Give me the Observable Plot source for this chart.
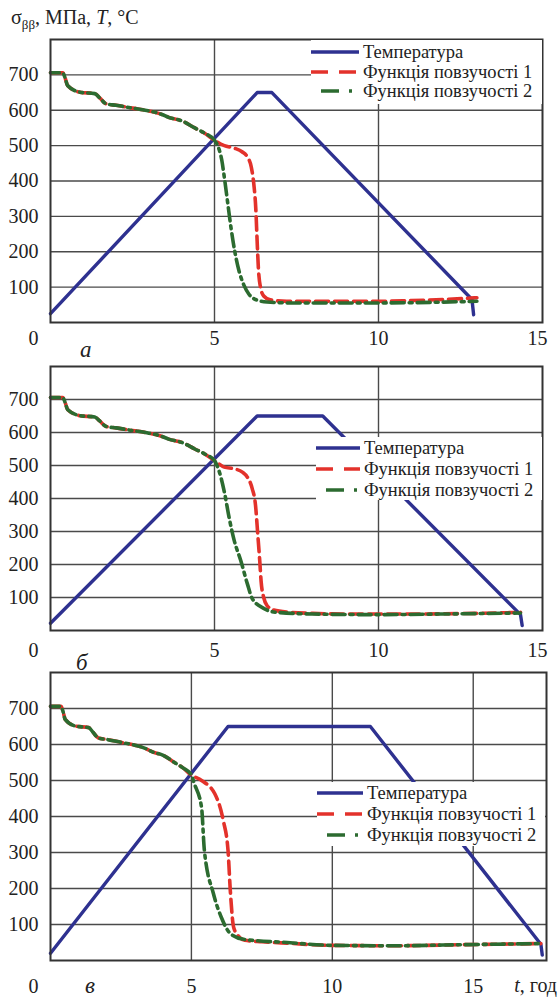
<!DOCTYPE html>
<html>
<head>
<meta charset="utf-8">
<script src="https://cdn.jsdelivr.net/npm/d3@7"></script>
<script src="https://cdn.jsdelivr.net/npm/@observablehq/plot@0.6"></script>
<style>
  html, body { margin: 0; padding: 0; background: #fff; }
  #root { position: relative; width: 558px; height: 999px; overflow: hidden; background: #fff; color: #222; }
  #root, #root *, #root svg text { font-family: "Liberation Serif", "DejaVu Serif", serif !important; }
  .abs { position: absolute; white-space: nowrap; }
  .legend { position: absolute; background: #fff; }
  .row { position: absolute; left: 0; height: 22px; display: flex; align-items: center; font-size: 18.5px; }
  .row svg { display: block; margin-right: 4px; }
</style>
</head>
<body>
<div id="root"></div>
<script>
// ---------- data ----------
const yTicks = [100, 200, 300, 400, 500, 600, 700];
const seriesNames = ["Температура", "Функція повзучості 1", "Функція повзучості 2"];

// common initial part of both creep functions (same in all panels)
const startT = [0, 0.37, 0.45, 0.52, 0.9, 1.35, 1.5, 1.7, 2.0, 2.5, 3.0, 3.4, 3.6, 4.0, 4.4, 4.7, 5.0];
const startV = [706, 706, 690, 670, 651, 647, 635, 618, 614, 606, 598, 588, 580, 570, 550, 535, 515];

// panel а
const tempA_t = [0, 6.3, 6.75, 12.85, 12.9];
const tempA_v = [25, 650, 650, 65, 22];
const red1A_t = [5.3, 5.6, 5.85, 6.0, 6.12, 6.2, 6.26, 6.3, 6.34, 6.4, 6.5, 6.7, 7.2, 8, 9, 10, 11, 12, 13];
const red1A_v = [500, 493, 482, 468, 440, 390, 320, 230, 150, 100, 75, 64, 60, 60, 60, 60, 62, 65, 70];
const grn2A_t = [5.12, 5.22, 5.3, 5.4, 5.5, 5.62, 5.75, 5.9, 6.05, 6.25, 6.6, 7.5, 9, 11, 13];
const grn2A_v = [495, 460, 410, 340, 270, 200, 145, 105, 80, 65, 58, 55, 55, 56, 60];

// panel б
const tempB_t = [0, 6.3, 8.3, 14.33, 14.38];
const tempB_v = [22, 650, 650, 48, 15];
const red1B_t = [5.3, 5.6, 5.85, 6.0, 6.15, 6.25, 6.32, 6.38, 6.42, 6.5, 6.6, 6.8, 7.3, 8, 9, 11, 13, 14.33];
const red1B_v = [495, 490, 480, 465, 430, 380, 290, 210, 150, 100, 76, 62, 55, 52, 50, 50, 52, 55];
const grn2B_t = [5.15, 5.3, 5.45, 5.6, 5.8, 6.0, 6.15, 6.5, 6.9, 8, 10, 12, 14.33];
const grn2B_v = [480, 420, 340, 273, 212, 142, 97, 67, 55, 50, 48, 50, 53];

// panel в
const tempC_t = [0, 6.3, 11.35, 17.4, 17.45];
const tempC_v = [20, 650, 650, 45, 15];
const red1C_t = [5.36, 5.83, 6.13, 6.3, 6.38, 6.5, 6.7, 6.9, 7.5, 8.4, 10, 12.2, 14.7, 17.4];
const red1C_v = [500, 463, 389, 305, 194, 92, 65, 56, 52, 48, 42, 41, 44, 47];
const grn2C_t = [5.1, 5.36, 5.46, 5.78, 6.06, 6.38, 6.85, 8.4, 10, 12.2, 14.7, 17.4];
const grn2C_v = [492, 425, 306, 186, 120, 75, 59, 50, 42, 41, 44, 47];

// ---------- helpers ----------
const zip = (ts, vs) => ts.map((t, i) => ({t, v: vs[i]}));
const withStart = (ts, vs) => zip(startT.concat(ts), startV.concat(vs));

const BLUE = "#2e3190", RED = "#e3322b", GREEN = "#2c6b30";
const FONT = "'Liberation Serif', 'DejaVu Serif', serif";
const root = document.getElementById("root");

function addPanel(cfg) {
  const mt = 2, mb = 44;
  const plotH = cfg.bottom - cfg.top;
  const chart = Plot.plot({
    width: 558,
    height: mt + plotH + mb,
    marginLeft: 50,
    marginRight: 558 - cfg.rightPx,
    marginTop: mt,
    marginBottom: mb,
    x: {domain: [0, cfg.xMax]},
    y: {domain: [0, 800]},
    style: {fontFamily: FONT, fontSize: "20px", color: "#222", background: "transparent", overflow: "visible"},
    marks: [
      Plot.gridY(yTicks, {stroke: "#4a4a4a", strokeOpacity: 1, strokeWidth: 1.4}),
      Plot.gridX(cfg.xGrid, {stroke: "#4a4a4a", strokeOpacity: 1, strokeWidth: 1.4}),
      Plot.axisY(yTicks, {tickSize: 0, tickPadding: 12, fontSize: 20, label: null}),
      Plot.axisX(cfg.xTicks, {tickSize: 0, tickPadding: cfg.pad, fontSize: 20, label: null}),
      Plot.axisX(cfg.xLast, {tickSize: 0, tickPadding: cfg.pad, fontSize: 20, label: null, dx: cfg.lastDx}),
      Plot.text([{x: 0, y: 0, s: "0"}], {x: "x", y: "y", text: "s", dx: -17, dy: cfg.pad + 8, fontSize: 20}),
      Plot.line(cfg.temp, {x: "t", y: "v", stroke: BLUE, strokeWidth: 3.4}),
      Plot.line(cfg.red, {x: "t", y: "v", stroke: RED, strokeWidth: 3.6, strokeDasharray: "13,6", curve: "monotone-x"}),
      Plot.line(cfg.green, {x: "t", y: "v", stroke: GREEN, strokeWidth: 3.6, strokeDasharray: "13,5,3,5", strokeDashoffset: 4, curve: "monotone-x"}),
      Plot.frame({stroke: "#333", strokeWidth: 2})
    ]
  });
  chart.style.position = "absolute";
  chart.style.left = "0px";
  chart.style.top = (cfg.top - mt) + "px";
  root.appendChild(chart);

  // legend
  const lg = cfg.legend;
  const box = document.createElement("div");
  box.className = "legend";
  box.style.left = lg.left + "px";
  box.style.top = lg.top + "px";
  box.style.width = lg.width + "px";
  box.style.height = lg.height + "px";
  const sw = lg.sw;
  const swatches = [
    `<line x1="0" y1="6" x2="${sw}" y2="6" stroke="${BLUE}" stroke-width="3.6"/>`,
    `<line x1="0" y1="6" x2="${sw}" y2="6" stroke="${RED}" stroke-width="3.6" stroke-dasharray="17,11"/>`,
    `<line x1="10" y1="6" x2="${sw}" y2="6" stroke="${GREEN}" stroke-width="3.6" stroke-dasharray="18,10,3,20"/>`
  ];
  seriesNames.forEach((name, i) => {
    const row = document.createElement("div");
    row.className = "row";
    row.style.top = (lg.rows[i] - lg.top - 11) + "px";
    row.innerHTML = `<svg width="${sw}" height="12">${swatches[i]}</svg><span>${name}</span>`;
    box.appendChild(row);
  });
  root.appendChild(box);

  // panel letter
  const let_ = document.createElement("div");
  let_.className = "abs";
  let_.style.left = (cfg.letterX - 7) + "px";
  let_.style.top = (cfg.letterY - 14) + "px";
  let_.style.fontSize = "23px";
  let_.style.lineHeight = "24px";
  let_.style.fontStyle = "italic";
  let_.textContent = cfg.letter;
  root.appendChild(let_);
}

// title
const title = document.createElement("div");
title.className = "abs";
title.style.left = "11px";
title.style.top = "6px";
title.style.fontSize = "20px";
title.innerHTML = `σ<span style="font-size:13px;position:relative;top:5px">ββ</span>, МПа, <i>T</i>, °C`;
root.appendChild(title);

addPanel({
  top: 39, bottom: 322, rightPx: 542, xMax: 15,
  xGrid: [5, 10], xTicks: [5, 10], xLast: [15], lastDx: -5, pad: 8,
  temp: zip(tempA_t, tempA_v), red: withStart(red1A_t, red1A_v), green: withStart(grn2A_t, grn2A_v),
  legend: {left: 311, top: 40, width: 231, height: 64, rows: [52, 72, 91], sw: 48},
  letter: "а", letterX: 87, letterY: 352
});

addPanel({
  top: 366, bottom: 630, rightPx: 542, xMax: 15,
  xGrid: [5, 10], xTicks: [5, 10], xLast: [15], lastDx: -5, pad: 12,
  temp: zip(tempB_t, tempB_v), red: withStart(red1B_t, red1B_v), green: withStart(grn2B_t, grn2B_v),
  legend: {left: 316, top: 437, width: 226, height: 63, rows: [448, 469, 490], sw: 44},
  letter: "б", letterX: 83, letterY: 665
});

addPanel({
  top: 672, bottom: 960, rightPx: 546, xMax: 17.6,
  xGrid: [5, 10, 15], xTicks: [5, 10], xLast: [15], lastDx: 0, pad: 18,
  temp: zip(tempC_t, tempC_v), red: withStart(red1C_t, red1C_v), green: withStart(grn2C_t, grn2C_v),
  legend: {left: 317, top: 782, width: 228, height: 64, rows: [793, 814, 835], sw: 46},
  letter: "в", letterX: 92, letterY: 988
});

// x-axis name of the last panel
const xname = document.createElement("div");
xname.className = "abs";
xname.style.right = "1px";
xname.style.top = "974px";
xname.style.fontSize = "20px";
xname.innerHTML = `<i>t</i>, год`;
root.appendChild(xname);
</script>
</body>
</html>
